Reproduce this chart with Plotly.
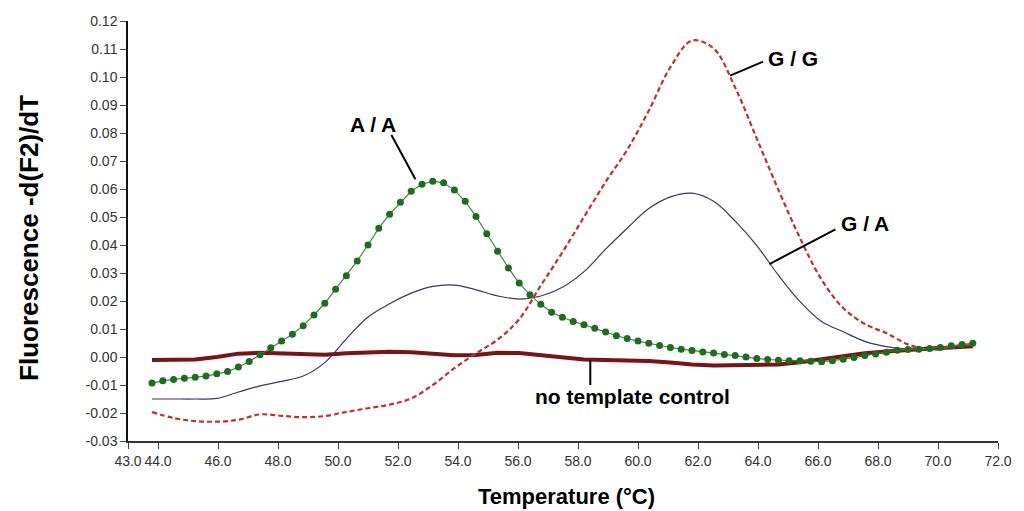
import plotly.graph_objects as go

# Melting-curve data: temperature (°C) and -d(F2)/dT for each genotype
temp_aa = [43.80, 44.16, 44.52, 44.88, 45.24, 45.60, 45.96, 46.32, 46.68, 47.04,
           47.40, 47.76, 48.12, 48.48, 48.84, 49.20, 49.56, 49.92, 50.28, 50.64,
           51.00, 51.36, 51.72, 52.08, 52.44, 52.80, 53.16, 53.52, 53.88, 54.24,
           54.60, 54.96, 55.32, 55.68, 56.04, 56.40, 56.76, 57.12, 57.48, 57.84,
           58.20, 58.56, 58.92, 59.28, 59.64, 60.00, 60.36, 60.72, 61.08, 61.44,
           61.80, 62.16, 62.52, 62.88, 63.24, 63.60, 63.96, 64.32, 64.68, 65.04,
           65.40, 65.76, 66.12, 66.48, 66.84, 67.20, 67.56, 67.92, 68.28, 68.64,
           69.00, 69.36, 69.72, 70.08, 70.44, 70.80, 71.16]
aa = [-0.0093, -0.0085, -0.0080, -0.0076, -0.0072, -0.0068, -0.0060, -0.0052, -0.0036, -0.0016,
      0.0008, 0.0033, 0.0057, 0.0081, 0.0112, 0.0150, 0.0192, 0.0242, 0.0290, 0.0343,
      0.0400, 0.0460, 0.0510, 0.0553, 0.0592, 0.0617, 0.0628, 0.0622, 0.0596, 0.0556,
      0.0502, 0.0440, 0.0378, 0.0318, 0.0264, 0.0222, 0.0188, 0.0160, 0.0142, 0.0127,
      0.0115, 0.0103, 0.0089, 0.0076, 0.0066, 0.0057, 0.0049, 0.0041, 0.0034, 0.0028,
      0.0023, 0.0018, 0.0014, 0.0009, 0.0005, 0.0000, -0.0005, -0.0009, -0.0012, -0.0013,
      -0.0013, -0.0015, -0.0017, -0.0013, -0.0008, -0.0002, 0.0005, 0.0011, 0.0017, 0.0024,
      0.0027, 0.0028, 0.0030, 0.0034, 0.0040, 0.0045, 0.0049]

temp = [43.80, 44.52, 45.24, 45.96, 46.68, 47.40, 48.12, 48.84, 49.56, 50.28,
        51.00, 51.72, 52.44, 53.16, 53.88, 54.60, 55.32, 56.04, 56.76, 57.48,
        58.20, 58.92, 59.64, 60.36, 61.08, 61.80, 62.52, 63.24, 63.96, 64.68,
        65.40, 66.12, 66.84, 67.56, 68.28, 69.00, 69.72, 70.44, 71.16]
gg = [-0.0197, -0.0218, -0.0229, -0.0231, -0.0224, -0.0205, -0.0210, -0.0215, -0.0211, -0.0196,
      -0.0183, -0.0170, -0.0148, -0.0100, -0.0040, 0.0013, 0.0062, 0.0135, 0.0255, 0.0374,
      0.0500, 0.0625, 0.0740, 0.0880, 0.1035, 0.1130, 0.1102, 0.0962, 0.0780, 0.0597,
      0.0425, 0.0276, 0.0175, 0.0118, 0.0085, 0.0045, 0.0026, 0.0033, 0.0045]
ga = [-0.0150, -0.0150, -0.0150, -0.0148, -0.0125, -0.0103, -0.0087, -0.0068, -0.0020, 0.0065,
      0.0143, 0.0190, 0.0228, 0.0252, 0.0257, 0.0240, 0.0218, 0.0207, 0.0218, 0.0249,
      0.0305, 0.0385, 0.0460, 0.0530, 0.0572, 0.0585, 0.0556, 0.0485, 0.0398, 0.0292,
      0.0198, 0.0127, 0.0090, 0.0056, 0.0037, 0.0027, 0.0026, 0.0034, 0.0044]
ntc = [-0.0011, -0.0011, -0.0009, 0.0000, 0.0012, 0.0015, 0.0013, 0.0009, 0.0008, 0.0013,
       0.0017, 0.0019, 0.0017, 0.0011, 0.0006, 0.0007, 0.0015, 0.0014, 0.0006, -0.0002,
       -0.0009, -0.0011, -0.0011, -0.0014, -0.0020, -0.0027, -0.0030, -0.0030, -0.0030, -0.0027,
       -0.0019, -0.0008, 0.0004, 0.0013, 0.0020, 0.0026, 0.0030, 0.0034, 0.0038]

x_ticks = [43, 44, 46, 48, 50, 52, 54, 56, 58, 60, 62, 64, 66, 68, 70, 72]
x_tick_text = ["43.0", "44.0", "46.0", "48.0", "50.0", "52.0", "54.0", "56.0",
               "58.0", "60.0", "62.0", "64.0", "66.0", "68.0", "70.0", "72.0"]
y_ticks = [-0.03, -0.02, -0.01, 0.00, 0.01, 0.02, 0.03, 0.04, 0.05, 0.06,
           0.07, 0.08, 0.09, 0.10, 0.11, 0.12]
y_tick_text = ["-0.03", "-0.02", "-0.01", "0.00", "0.01", "0.02", "0.03", "0.04",
               "0.05", "0.06", "0.07", "0.08", "0.09", "0.10", "0.11", "0.12"]

# Curve labels: (text, text x, text y, pointer start, pointer end)
labels = [
    ("A / A", 51.18, 0.0829, (51.78, 0.0793), (52.58, 0.0635)),
    ("G / G", 65.15, 0.1067, (64.17, 0.1055), (63.07, 0.1005)),
    ("G / A", 67.56, 0.0478, (66.58, 0.0456), (64.38, 0.0332)),
    ("no template control", 59.80, -0.0142, (58.41, -0.0011), (58.41, -0.0100)),
]

FONT = "Liberation Sans, Arial, sans-serif"

fig = go.Figure()
fig.add_trace(go.Scatter(x=temp, y=ntc, mode="lines",
                         line=dict(color="#7a1414", width=4)))
fig.add_trace(go.Scatter(x=temp, y=ga, mode="lines",
                         line=dict(color="#3b3566", width=1.2, shape="spline")))
fig.add_trace(go.Scatter(x=temp, y=gg, mode="lines",
                         line=dict(color="#c0302c", width=2.2, dash="5px,3px", shape="spline")))
fig.add_trace(go.Scatter(x=temp_aa, y=aa, mode="lines+markers",
                         line=dict(color="#3b8a3b", width=1.2),
                         marker=dict(color="#1c6e1c", size=7)))

for text, tx, ty, p0, p1 in labels:
    fig.add_annotation(x=tx, y=ty, xref="x", yref="y", text="<b>" + text + "</b>",
                       showarrow=False,
                       font=dict(family=FONT, size=21, color="#000"),
                       xanchor="center", yanchor="middle")
    fig.add_shape(type="line", xref="x", yref="y", x0=p0[0], y0=p0[1], x1=p1[0], y1=p1[1],
                  line=dict(color="#000", width=2))

# Axis titles
fig.add_annotation(text="<b>Temperature (°C)</b>", xref="paper", yref="paper",
                   x=0.5045, y=-0.133, showarrow=False, xanchor="center", yanchor="middle",
                   font=dict(family=FONT, size=22, color="#000"))
fig.add_annotation(text="<b>Fluorescence -d(F2)/dT</b>", xref="paper", yref="paper",
                   x=-0.114, y=0.483, showarrow=False, textangle=-90,
                   xanchor="center", yanchor="middle",
                   font=dict(family=FONT, size=26, color="#000"))

fig.update_xaxes(range=[43, 72], tickvals=x_ticks, ticktext=x_tick_text,
                 showline=True, linecolor="#333", linewidth=1.5,
                 ticks="outside", ticklen=6, tickwidth=1, tickcolor="#444",
                 showgrid=False, zeroline=False,
                 tickfont=dict(family=FONT, size=14, color="#333"))
fig.update_yaxes(range=[-0.03, 0.12], tickvals=y_ticks, ticktext=y_tick_text,
                 showline=True, linecolor="#111", linewidth=1.5,
                 ticks="outside", ticklen=6, tickwidth=1, tickcolor="#444",
                 showgrid=False, zeroline=False,
                 tickfont=dict(family=FONT, size=14, color="#333"))

fig.update_layout(width=1024, height=511, margin=dict(l=128, r=14, t=21, b=70),
                  paper_bgcolor="white", plot_bgcolor="white", showlegend=False)

fig.write_html("out.html")
